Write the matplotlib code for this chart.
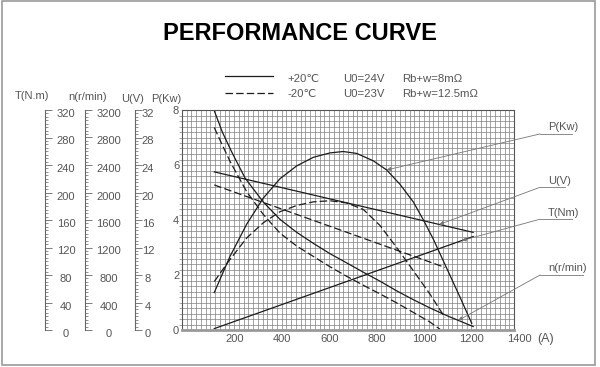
import numpy as np
import matplotlib
matplotlib.use('Agg')
import matplotlib.pyplot as plt
from matplotlib.lines import Line2D
from matplotlib.patches import Rectangle
from matplotlib.ticker import MultipleLocator
from matplotlib.transforms import ScaledTranslation

plt.rcParams['font.family'] = ['Liberation Sans', 'DejaVu Sans']

# ---- data (current in A) ----
current_ticks = [200, 400, 600, 800, 1000, 1200, 1400]
p_ticks = [0, 2, 4, 6, 8]

# power P (kW), +20C solid / -20C dashed
p_hot_a = [136, 202, 273, 343, 413, 484, 554, 624, 680, 737, 807, 863, 919, 976, 1018, 1060, 1116, 1172, 1222]
p_hot = [1.36, 2.67, 3.85, 4.8, 5.5, 5.97, 6.28, 6.44, 6.49, 6.42, 6.15, 5.82, 5.3, 4.65, 4.0, 3.3, 2.25, 1.2, 0.24]
p_cold_a = [136, 195, 273, 343, 413, 484, 554, 624, 695, 765, 835, 905, 976, 1046, 1109]
p_cold = [1.76, 2.48, 3.35, 3.9, 4.3, 4.53, 4.66, 4.7, 4.62, 4.38, 3.8, 3.0, 2.15, 1.3, 0.45]

# voltage U (V)
u_hot_a = [136, 1228]
u_hot = [23.0, 14.2]
u_cold_a = [136, 1109]
u_cold = [21.1, 9.1]

# torque T (N.m)
t_a = [136, 1228]
t_val = [2, 136]

# speed n (r/min)
n_hot_a = [136, 170, 211, 266, 343, 413, 484, 554, 624, 695, 765, 835, 905, 976, 1046, 1116, 1172, 1228]
n_hot = [3190, 2880, 2580, 2210, 1860, 1610, 1420, 1260, 1110, 975, 840, 710, 570, 440, 320, 210, 130, 50]
n_cold_a = [136, 170, 203, 273, 343, 413, 484, 554, 624, 695, 765, 835, 905, 976, 1046, 1088]
n_cold = [2945, 2690, 2450, 2010, 1680, 1410, 1220, 1070, 920, 780, 650, 525, 395, 255, 115, 10]

W, H = 600, 367


def fx(x):
    return x / W


def fy(y):
    return 1 - y / H


ink = '#1c1c1c'
gray = '#555555'
dash = (0, (6, 2.5))

fig = plt.figure(figsize=(6, 3.67), dpi=100)

# main chart, left axis is P (kW)
ax = fig.add_axes([fx(182), fy(330), 332 / W, 220 / H])
ax.set_xlim(0, 1400)
ax.set_ylim(0, 8)
ax.set_xticks(current_ticks, [str(c) for c in current_ticks])
ax.set_yticks(p_ticks, [str(p) for p in p_ticks])
ax.xaxis.set_minor_locator(MultipleLocator(20))
ax.yaxis.set_minor_locator(MultipleLocator(0.2))
ax.grid(which='both', color='#808080', lw=0.5)
ax.set_axisbelow(True)
ax.tick_params(axis='x', which='both', length=0, pad=3, labelsize=8, labelcolor=gray)
ax.tick_params(axis='y', which='major', length=0, pad=2, labelsize=8, labelcolor=gray)
ax.tick_params(axis='y', which='minor', length=2, width=0.5, color='#808080')
for lab in ax.get_xticklabels():
    lab.set_transform(lab.get_transform() + ScaledTranslation(0.05, 0, fig.dpi_scale_trans))
for s in ax.spines.values():
    s.set_color('#555555')
    s.set_linewidth(0.8)
ax.spines['bottom'].set_color('#999999')
ax.spines['bottom'].set_linewidth(2)

# curves, everything drawn on the P scale (U/4, T/40, n/400)
ax.plot(p_hot_a, p_hot, color=ink, lw=0.9)
ax.plot(p_cold_a, p_cold, color=ink, lw=0.9, ls=dash)
ax.plot(u_hot_a, np.array(u_hot) / 4, color=ink, lw=0.9)
ax.plot(u_cold_a, np.array(u_cold) / 4, color=ink, lw=0.9, ls=dash)
ax.plot(t_a, np.array(t_val) / 40, color=ink, lw=0.9)
ax.plot(n_hot_a, np.array(n_hot) / 400, color=ink, lw=0.9)
ax.plot(n_cold_a, np.array(n_cold) / 400, color=ink, lw=0.9, ls=dash)

# call-out labels on the right
callouts = [
    ('P(Kw)', 7.13, 1645, 863, p_hot_a, np.array(p_hot)),
    ('U(V)', 5.19, 1615, 1085, u_hot_a, np.array(u_hot) / 4),
    ('T(Nm)', 4.03, 1645, 1180, t_a, np.array(t_val) / 40),
    ('n(r/min)', 2.0, 1691, 1165, n_hot_a, np.array(n_hot) / 400),
]
for name, yv, x_end, tip_a, ca, cv in callouts:
    tip_v = np.interp(tip_a, ca, cv)
    ax.annotate('', xy=(tip_a, tip_v), xytext=(1510, yv), annotation_clip=False,
                arrowprops=dict(arrowstyle='-|>', lw=0.6, color='#777777',
                                mutation_scale=6, shrinkA=0, shrinkB=0))
    ax.plot([1510, x_end], [yv, yv], color='#777777', lw=0.6, clip_on=False)
    ax.text(1543, yv + 0.06, name, fontsize=8, color=gray, va='bottom')

# stacked left scales
scales = [
    (45, 320, 40, 5, 19),
    (85, 3200, 400, 50, 22),
    (135, 32, 4, 0.5, 11),
]
for bar_x, vmax, major, minor, off in scales:
    sax = fig.add_axes([fx(bar_x - 10), fy(330), 10 / W, 220 / H])
    sax.set_ylim(0, vmax)
    sax.set_xticks([])
    sax.patch.set_visible(False)
    for side in ['left', 'top', 'bottom']:
        sax.spines[side].set_visible(False)
    sax.spines['right'].set_color('#666666')
    sax.spines['right'].set_linewidth(0.8)
    sax.yaxis.tick_right()
    ticks = np.arange(0, vmax + major / 2, major)
    sax.set_yticks(ticks, [f'{t:g}' for t in ticks])
    sax.yaxis.set_minor_locator(MultipleLocator(minor))
    sax.tick_params(axis='y', which='major', direction='out', length=5, width=0.6,
                    color='#666666', labelsize=8, labelcolor=gray, pad=(off - 5) * 0.72)
    sax.tick_params(axis='y', which='minor', direction='out', length=2.5, width=0.5,
                    color='#666666')
    for lab in sax.get_yticklabels():
        lab.set_ha('center')
        lab.set_transform(lab.get_transform() + ScaledTranslation(0, -0.03, fig.dpi_scale_trans))

# scale headers
for txt, x, y in [('T(N.m)', 32, 96), ('n(r/min)', 88, 97), ('U(V)', 133, 99), ('P(Kw)', 166, 99)]:
    fig.text(fx(x), fy(y), txt, ha='center', va='center', fontsize=8, color=gray)

fig.text(fx(537), fy(342), '(A)', fontsize=9, color=gray, va='baseline')

# legend block
fig.add_artist(Line2D([fx(225), fx(273)], [fy(75.7)] * 2, transform=fig.transFigure, color=ink, lw=0.9))
fig.add_artist(Line2D([fx(225), fx(273)], [fy(93.3)] * 2, transform=fig.transFigure, color=ink, lw=0.9, ls=dash))
for row_y, parts in [(81.7, ['+20\u2103', 'U0=24V', 'Rb+w=8m\u03a9']),
                     (96.7, ['-20\u2103', 'U0=23V', 'Rb+w=12.5m\u03a9'])]:
    for x, txt in zip([287, 343, 402], parts):
        fig.text(fx(x), fy(row_y), txt, fontsize=8.2, color=gray, va='baseline')

fig.text(0.5, fy(40), 'PERFORMANCE CURVE', ha='center', va='baseline',
         fontsize=17, fontweight='bold', color='black')

fig.add_artist(Rectangle((fx(2), fy(365)), 593 / W, 364 / H, transform=fig.transFigure,
                         fill=False, ec='#999999', lw=1.2))

fig.savefig('out.png', dpi=100)
